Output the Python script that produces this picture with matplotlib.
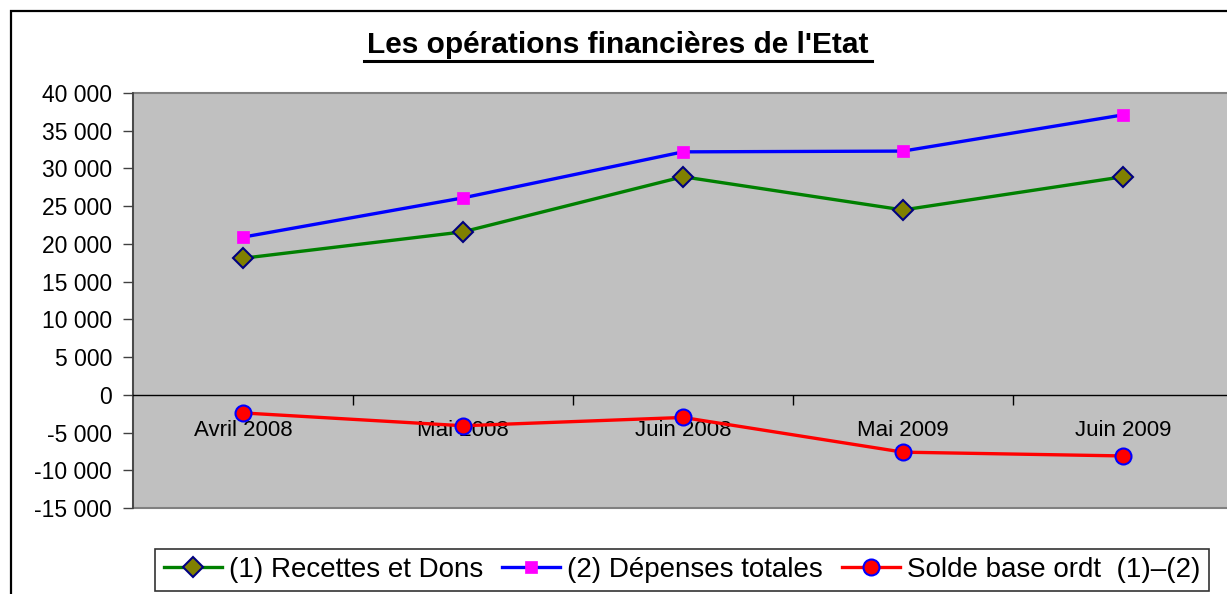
import matplotlib
matplotlib.use("Agg")
import matplotlib.pyplot as plt
from matplotlib.ticker import FuncFormatter, FixedLocator
from matplotlib.patches import Rectangle

plt.rcParams['font.family'] = ['Liberation Sans', 'DejaVu Sans']

categories = ["Avril 2008", "Mai 2008", "Juin 2008", "Mai 2009", "Juin 2009"]
recettes = [18100, 21600, 28900, 24500, 28900]
depenses = [20900, 26100, 32200, 32300, 37100]
solde = [-2400, -4100, -3000, -7600, -8100]
labels = ["(1) Recettes et Dons", "(2) Dépenses totales", "Solde base ordt  (1)\u2013(2)"]
title = "Les opérations financières de l'Etat"
y_ticks = list(range(-15000, 40001, 5000))

W, H = 1227, 594
fig = plt.figure(figsize=(W / 100, H / 100), dpi=100)
fig.patch.set_facecolor('white')

# outer chart frame (cut off at right and bottom)
fig.add_artist(Rectangle((11 / W, -0.1), 1.2, 1 - 11 / H + 0.1, transform=fig.transFigure,
                         fill=False, edgecolor='black', linewidth=1.6))

left, right, top, bottom = 133, 1233, 93, 508
ax = fig.add_axes([left / W, 1 - bottom / H, (right - left) / W, (bottom - top) / H])
ax.set_facecolor('#C0C0C0')

x = list(range(len(categories)))
l1, = ax.plot(x, recettes, color='#008000', lw=2.4, marker='D', ms=10,
              mfc='#808000', mec='#000080', mew=1.5, zorder=3)
l2, = ax.plot(x, depenses, color='#0000FF', lw=2.4, marker='s', ms=8,
              mfc='#FF00FF', mec='#FF00FF', mew=0.5, zorder=3)
l3, = ax.plot(x, solde, color='#FF0000', lw=2.4, marker='o', ms=11.5,
              mfc='#FF0000', mec='#0000FF', mew=1.5, zorder=3)

ax.set_xlim(-0.5, len(categories) - 0.5)
ax.set_ylim(-15000, 40000)
ax.set_yticks(y_ticks)
ax.yaxis.set_major_formatter(FuncFormatter(
    lambda v, p: ("-" if v < 0 else "") + f"{abs(int(v)):,}".replace(",", " ")))
ax.tick_params(axis='y', direction='out', length=7, width=1, color='#404040',
               labelsize=16.5, pad=8)

# x axis at zero
ax.spines['bottom'].set_position(('data', 0))
ax.spines['bottom'].set_color('black')
ax.spines['bottom'].set_linewidth(1)
ax.set_xticks(x)
ax.set_xticklabels(categories)
ax.xaxis.set_minor_locator(FixedLocator([i - 0.5 for i in range(1, len(categories))]))
ax.tick_params(axis='x', which='major', length=0, labelsize=16, pad=18)
ax.tick_params(axis='x', which='minor', direction='out', length=7, width=1, color='black')

for s in ['top', 'right']:
    ax.spines[s].set_visible(False)
ax.spines['left'].set_color('#404040')
ax.spines['left'].set_linewidth(1.2)
ax.add_patch(Rectangle((0, 0), 1, 1, transform=ax.transAxes, fill=False,
                       edgecolor='#808080', linewidth=1.5, zorder=1, clip_on=False))

fig.text(618 / W, 1 - 45 / H, title, ha='center', va='center', fontsize=21.5,
         fontweight='bold')
# underline
fig.add_artist(plt.Line2D([364 / W, 872 / W], [1 - 61 / H, 1 - 61 / H],
                          transform=fig.transFigure, color='black', lw=2.2))

leg = fig.legend([l1, l2, l3], labels, loc='center', ncol=3,
                 bbox_to_anchor=(682 / W, 1 - 570 / H), fontsize=20, frameon=True,
                 fancybox=False, edgecolor='black', handlelength=2.1,
                 handletextpad=0.25, columnspacing=0.68, borderpad=0.3,
                 borderaxespad=0)
leg.get_frame().set_linewidth(1.2)

fig.savefig("out.png", dpi=100)
